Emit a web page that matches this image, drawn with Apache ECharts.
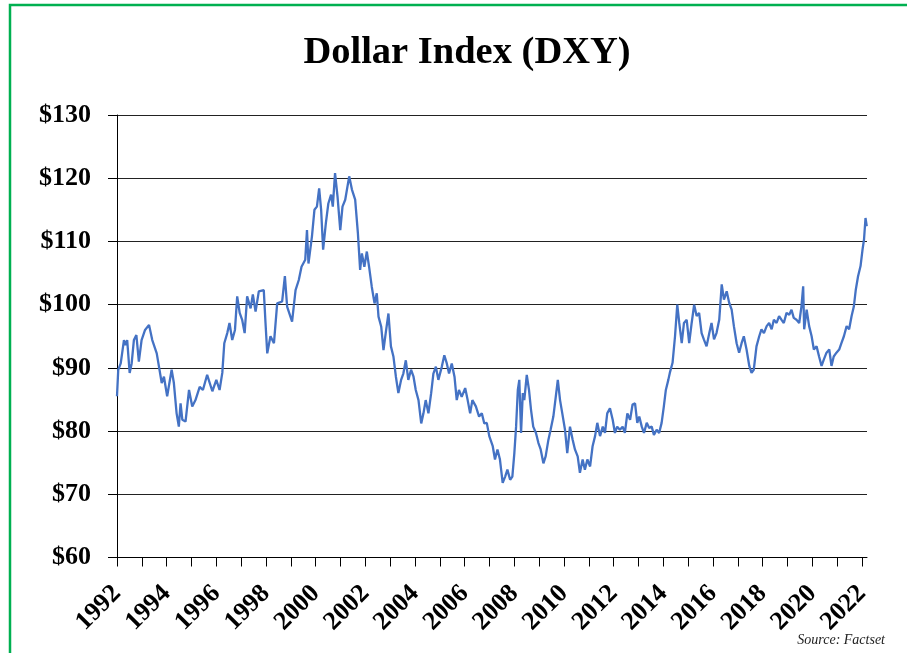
<!DOCTYPE html>
<html>
<head>
<meta charset="utf-8">
<script src="https://cdn.jsdelivr.net/npm/echarts@6/dist/echarts.min.js"></script>
<style>
html,body{margin:0;padding:0;background:#fff;}
#chart{width:907px;height:653px;}
</style>
</head>
<body>
<div id="chart"></div>
<script>
// Decimal-year positions of the DXY trace
var dates = [
1992.00,1992.05,1992.15,1992.28,1992.35,1992.41,1992.51,1992.59,1992.68,1992.78,1992.88,1992.99,
1993.13,1993.29,1993.42,1993.60,1993.69,1993.80,1993.89,1994.02,1994.20,1994.29,1994.40,1994.49,
1994.56,1994.63,1994.76,1994.90,1995.03,1995.16,1995.33,1995.46,1995.63,1995.84,1996.00,1996.13,
1996.24,1996.32,1996.44,1996.53,1996.64,1996.75,1996.84,1996.94,1997.04,1997.14,1997.24,1997.38,
1997.47,1997.58,1997.71,1997.91,1997.98,1998.05,1998.18,1998.32,1998.45,1998.65,1998.76,1998.85,
1999.05,1999.19,1999.32,1999.43,
1999.58,1999.65,1999.71,1999.85,1999.95,2000.05,2000.14,2000.22,2000.30,2000.41,2000.51,2000.62,
2000.69,2000.78,2000.88,2000.99,2001.08,2001.19,2001.35,2001.46,2001.59,2001.70,2001.79,2001.86,
2001.96,2002.06,2002.15,2002.26,2002.37,2002.46,2002.53,2002.64,2002.73,2002.82,2002.93,2003.03,
2003.13,2003.23,2003.33,2003.44,2003.53,2003.63,2003.73,2003.84,2003.94,2004.03,2004.14,2004.25,
2004.34,2004.43,2004.54,2004.65,2004.74,2004.84,2004.94,2005.08,2005.18,2005.28,2005.37,2005.48,
2005.59,2005.68,2005.77,2005.88,2006.02,2006.12,2006.22,2006.31,2006.45,2006.58,2006.69,2006.79,
2006.89,2006.99,2007.13,2007.22,2007.32,2007.42,2007.53,2007.63,2007.72,2007.83,2007.92,2008.00,
2008.07,2008.14,2008.20,2008.27,2008.34,2008.40,2008.50,2008.59,2008.67,2008.76,2008.87,2008.97,
2009.06,2009.17,2009.26,2009.37,2009.46,2009.57,2009.67,2009.75,2009.84,2009.93,2010.04,2010.13,
2010.24,2010.35,2010.44,2010.55,2010.64,2010.75,2010.84,2010.94,2011.05,2011.15,2011.25,2011.34,
2011.45,2011.56,2011.65,2011.74,2011.85,2011.96,2012.05,2012.14,2012.25,2012.36,2012.45,2012.55,
2012.66,2012.76,2012.86,2012.95,2013.03,2013.13,2013.22,2013.33,2013.43,2013.53,2013.62,2013.73,
2013.83,2013.93,2014.02,2014.10,2014.20,2014.26,
2014.37,2014.47,2014.56,2014.64,2014.74,2014.83,2014.94,2015.04,2015.14,2015.24,2015.34,2015.44,
2015.54,2015.63,2015.74,2015.85,2015.94,2016.04,2016.14,2016.25,2016.35,2016.44,2016.55,2016.65,
2016.75,2016.84,2016.95,2017.05,2017.15,2017.24,2017.35,2017.46,2017.55,2017.64,2017.75,2017.86,
2017.95,2018.05,2018.16,2018.26,2018.36,2018.45,2018.56,2018.66,2018.76,2018.85,2018.96,2019.07,
2019.16,2019.25,2019.36,2019.47,2019.56,2019.63,2019.67,2019.77,2019.87,2019.97,2020.06,2020.17,
2020.27,2020.37,2020.46,2020.57,2020.68,2020.77,2020.86,2020.97,2021.08,2021.17,2021.27,2021.38,
2021.48,2021.58,2021.67,2021.75,2021.84,2021.94,2022.02,2022.08,2022.14,2022.19
];
var dxy = [
85.5,89.7,90.7,94.4,93.6,94.4,89.2,90.7,94.4,95.2,91.0,94.4,
96.0,96.8,94.4,92.3,90.2,87.6,88.6,85.5,89.7,87.6,82.8,80.7,
84.4,81.8,81.5,86.5,83.9,84.9,87.0,86.5,88.9,86.3,88.1,86.5,
89.2,93.9,95.5,97.1,94.4,96.0,101.3,98.7,97.6,95.5,101.3,99.4,
101.6,98.9,102.1,102.3,97.1,92.3,95.0,93.9,100.2,100.5,104.5,99.7,
97.3,102.3,103.9,106.0,
107.1,111.8,106.5,110.8,115.0,115.5,118.4,115.0,108.7,112.9,116.0,117.4,
115.5,120.8,117.1,111.8,115.5,116.6,120.3,118.2,116.6,111.3,105.5,108.1,
106.0,108.4,106.0,102.8,100.2,101.8,98.1,96.5,92.8,95.5,98.6,93.4,
91.8,88.6,86.0,88.1,89.1,91.2,88.1,89.7,88.6,86.5,84.9,81.2,
82.8,84.9,82.8,86.0,89.1,90.2,88.1,90.2,92.0,90.7,89.1,90.7,
88.6,84.9,86.5,85.4,86.8,84.9,82.8,84.9,83.9,82.3,82.8,81.2,
81.3,79.2,77.6,75.5,77.1,75.5,71.8,72.8,73.9,72.3,72.8,76.5,
80.7,86.5,88.1,79.7,86.0,84.9,88.9,86.5,83.4,80.7,79.7,78.1,
77.1,74.9,76.0,78.6,80.2,82.3,85.5,88.1,84.9,82.8,80.2,76.5,
80.7,78.6,77.1,76.0,73.4,75.5,73.9,75.5,74.4,77.6,79.2,81.3,
79.2,80.7,79.7,82.8,83.6,81.8,79.7,80.7,80.2,80.7,79.7,82.8,
81.8,84.2,84.4,81.3,82.3,80.7,79.7,81.3,80.5,80.7,79.4,80.2,
79.7,81.3,83.9,86.5,88.1,89.2,
90.8,95.0,100.0,97.1,93.9,97.1,97.6,93.9,97.1,100.0,98.2,98.7,
95.5,94.5,93.4,95.5,97.1,94.5,95.5,97.6,103.2,100.8,102.1,100.3,
99.2,96.6,93.9,92.4,93.9,95.0,92.9,90.3,89.2,89.7,93.4,95.0,
96.1,95.5,96.6,97.1,96.1,97.6,97.1,98.2,97.6,97.1,98.7,98.4,
99.2,97.9,97.6,97.1,99.7,102.9,96.1,99.2,96.6,95.0,92.9,93.4,
91.8,90.3,91.3,92.4,92.9,90.3,91.8,92.4,92.9,93.9,95.0,96.6,
96.1,98.2,99.7,102.4,104.5,106.1,108.7,110.3,113.7,112.4
];
var yTicks = [60, 70, 80, 90, 100, 110, 120, 130];
var tickYears = [];
for (var y = 1992; y <= 2022; y++) tickYears.push(y);
var labelYears = tickYears.filter(function (v) { return v % 2 === 0; });

var chart = echarts.init(document.getElementById('chart'), null, {renderer: 'canvas'});
var serif = 'Liberation Serif';
chart.setOption({
  animation: false,
  backgroundColor: '#fff',
  grid: {left: 117, right: 40, top: 115, bottom: 95.5, containLabel: false},
  graphic: [
    {type: 'rect', shape: {x: 10, y: 5, width: 1000, height: 1000},
     style: {fill: 'none', stroke: '#00B050', lineWidth: 2.5}, silent: true},
    {type: 'text', x: 467, y: 53,
     style: {text: 'Dollar Index (DXY)', font: 'bold 38.5px "Liberation Serif"', fill: '#000',
             textAlign: 'center', textVerticalAlign: 'middle'}},
    {type: 'text', x: 885, y: 640,
     style: {text: 'Source: Factset', font: 'italic 14px "Liberation Serif"', fill: '#222',
             textAlign: 'right', textVerticalAlign: 'middle'}}
  ],
  xAxis: {
    type: 'value', min: 1992, max: 2022.2, interval: 1,
    axisLine: {show: true, lineStyle: {color: '#000', width: 1}},
    axisTick: {show: true, length: 9, customValues: tickYears, lineStyle: {color: '#000'}},
    axisLabel: {
      customValues: labelYears, rotate: 45, margin: 32,
      fontFamily: serif, fontWeight: 'bold', fontSize: 26, color: '#000',
      formatter: function (v) { return String(Math.round(v)); }
    },
    splitLine: {show: false}
  },
  yAxis: {
    type: 'value', min: 60, max: 130, interval: 10,
    axisLine: {show: true, lineStyle: {color: '#000', width: 1}},
    axisTick: {show: true, length: 9, inside: false, lineStyle: {color: '#000'}},
    axisLabel: {
      margin: 26, fontFamily: serif, fontWeight: 'bold', fontSize: 26, color: '#000',
      formatter: function (v) { return '$' + v; }
    },
    splitLine: {show: true, lineStyle: {color: '#222', width: 1}}
  },
  series: [{
    type: 'line',
    data: dates.map(function (d, i) { return [d, dxy[i]]; }),
    showSymbol: false,
    lineStyle: {color: '#4472C4', width: 2.3},
    itemStyle: {color: '#4472C4'}
  }]
});
</script>
</body>
</html>
